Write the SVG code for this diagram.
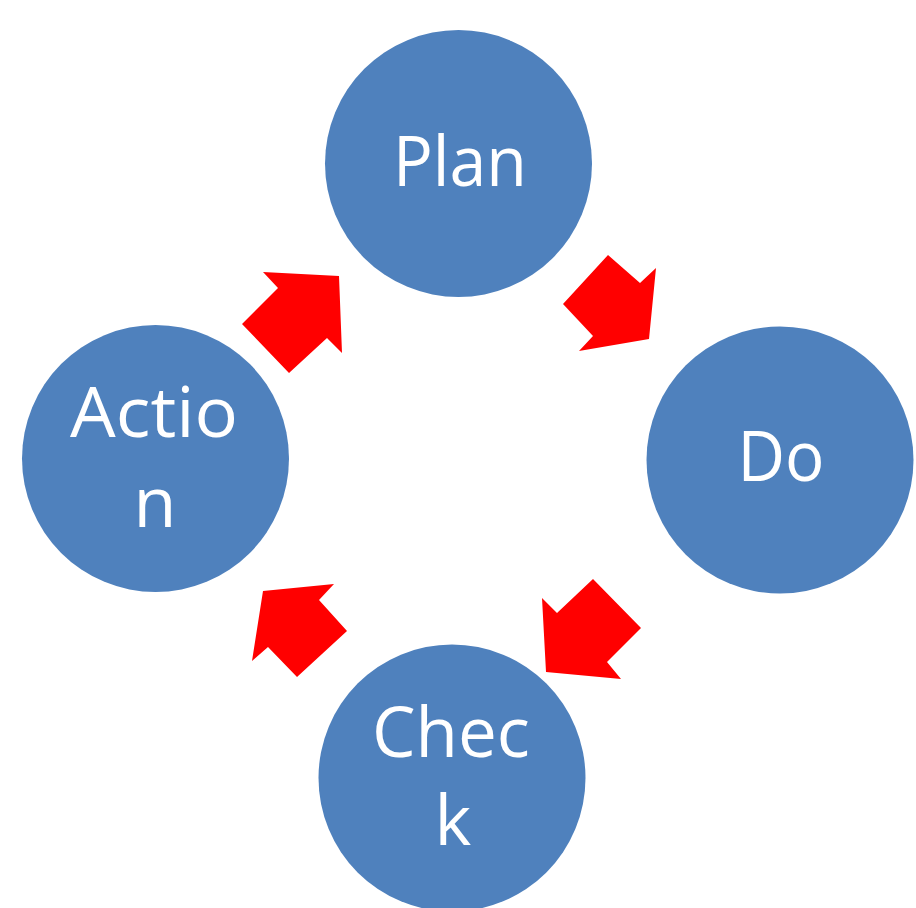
<svg xmlns="http://www.w3.org/2000/svg" width="916" height="908" viewBox="0 0 916 908">
<style>
.node{fill:#4F81BD}
.lbl{fill:#fff;font-family:"Open Sans","Noto Sans","Liberation Sans",sans-serif;font-size:70px;text-anchor:middle}
.arr{fill:#FF0000}
</style>
<rect width="916" height="908" fill="#fff"/>
<g id="plan"><circle class="node" cx="458.5" cy="163.5" r="133.5"/><text class="lbl" x="460" y="186" textLength="134" lengthAdjust="spacingAndGlyphs">Plan</text></g>
<g id="do"><circle class="node" cx="780" cy="460" r="133.5"/><text class="lbl" x="781" y="481" textLength="87" lengthAdjust="spacingAndGlyphs">Do</text></g>
<g id="check"><circle class="node" cx="452" cy="778" r="133.5"/><text class="lbl" x="451" y="757" textLength="158" lengthAdjust="spacingAndGlyphs">Chec</text><text class="lbl" x="453" y="845">k</text></g>
<g id="action"><circle class="node" cx="155.5" cy="458.5" r="133.5"/><text class="lbl" x="154" y="437" textLength="168" lengthAdjust="spacingAndGlyphs">Actio</text><text class="lbl" x="155" y="527">n</text></g>
<g id="connectors">
<polygon class="arr" points="608,255 640,283 656,268 649,339 579,351 593,336 563,304"/>
<polygon class="arr" points="593,579 641,628 607,662 621,679 546,672 542,598 557,613"/>
<polygon class="arr" points="263,591 334,584 319,600 347,631 297,677 268,647 252,661"/>
<polygon class="arr" points="263,272 339,276 342,353 327,338 289,373 242,324 278,288"/>
</g>
</svg>
